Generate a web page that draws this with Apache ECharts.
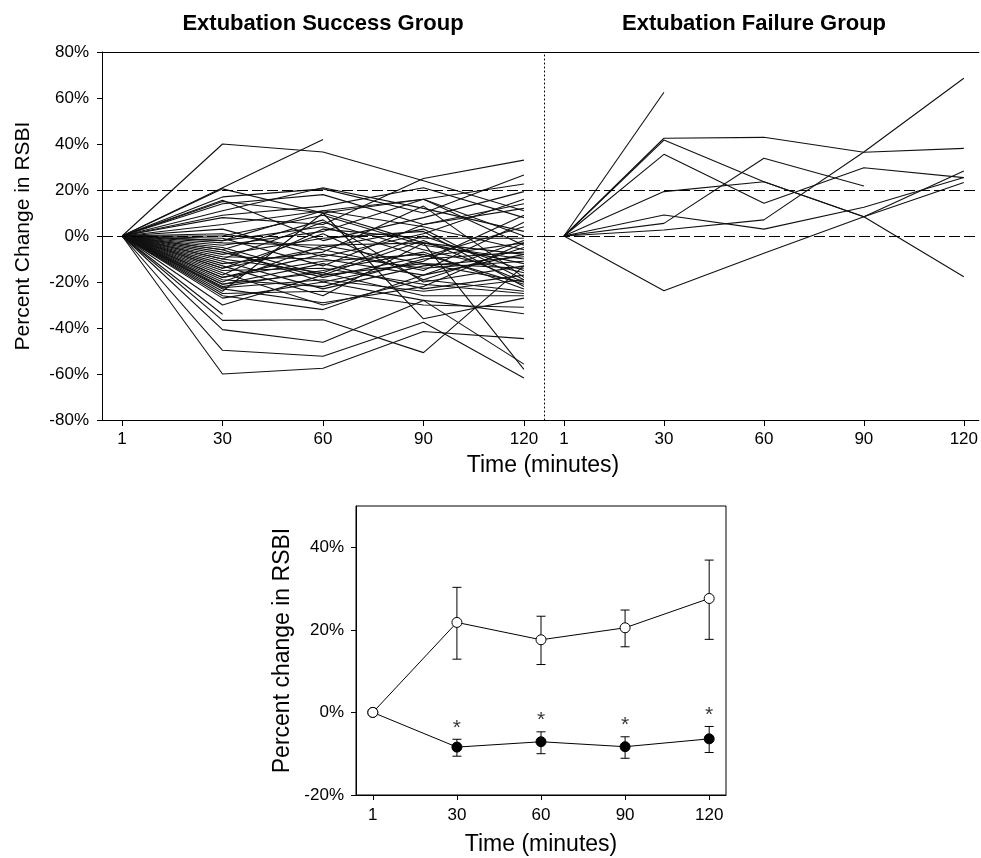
<!DOCTYPE html>
<html><head><meta charset="utf-8">
<script src="https://cdn.jsdelivr.net/npm/echarts@6/dist/echarts.min.js"></script>
<style>html,body{margin:0;padding:0;background:#fff}#c{width:981px;height:858px}</style>
</head><body><div id="c"></div>
<script>
// ---- tick labels ----
const timeLabels = ['1', '30', '60', '90', '120'];
const timeIndex = [0, 1, 2, 3, 4];
const topYTicks = [-80, -60, -40, -20, 0, 20, 40, 60, 80];
const bottomYTicks = [-20, 0, 20, 40];
const thresholds = [0, 20];

// ---- Extubation Success Group: % change in RSBI per patient at each time ----
const successT1 = [0,0,0,0,0,0,0,0,0,0, 0,0,0,0,0,0,0,0,0,0, 0,0,0,0,0,0,0,0,0,0, 0,0,0,0,0,0,0,0,0,0, 0,0,0,0,0,0,0,0, 0,0,0,0,0,0];
const successT30 = [40,21,20.5,8,17,15,15.5,14,11,9, 5,3,1,0,-1,-2,-3,-4,-5,-6, -7,-8,-9,-10,-11,-12,-13,-14,-15,-16, -17,-18,-19,-20,-21,-22,-22.5,-23,-24,-25, -26,-27,-30,-34,-36.7,-40.7,-49.7,-60, -18,-21,-6,-14,-10,-2];
const successT60 = [36.5,42,10,5,20.5,10,-2,18,21,13, 11,-9,-6,9,-13,11,-4,2,-17,7, -18,-1,-10,6,-23,-7,-26,1,-14,-30, 3,-11,-22,-4,-16,-15,-19,-29,10,-24, -32,-20,-17,null,-36.4,-46.2,-52.3,-57.5, -8,-12,-20,-5,-16,4];
const successT90 = [24,null,-3,25,10,16,8,5,12,21, 16,1,-15,-4,5,4,-12,16,-2,-20, -9,2,-17,-6,-13,13,-3,-19,-21,-19, -1,-8,-10,-3,0,-7,-24,-22,-36,-30, -17,-28,-12,null,-50.7,-28,-37.5,-41.5, -14,-23,-11,3,-26,-9];
const successT120 = [11,null,-8,33,26.5,22.6,19.3,14,2,8, -4,16,6,-10,12,-6,-14,0,-20,-13, 4,-22,-2,-16,-9,-18,-12,-5,-25,-24, -1,-21,-7,-58,-15,-23,-19,-3,-27,-31, -8,-55.7,-20,null,-13,-33.8,-61.7,-44.6, -11,-17,9,-19,-26,-3];

// ---- Extubation Failure Group ----
const failureT1 = [0,0,0,0,0,0,0,0,0];
const failureT30 = [62.5,42.5,41.7,35.5,19.3,5.5,9.1,2.6,-23.8];
const failureT60 = [null,42.9,23.6,14.2,23.6,33.8,3.0,7.0,-7.5];
const failureT90 = [null,36.4,8.4,29.7,8.4,21.7,12.5,36.5,8.4];
const failureT120 = [null,38.1,-17.7,25.4,28.3,null,25.4,68.6,23.3];

// ---- Summary (mean and error bars) ----
const failureMean = [0, 21.8, 17.6, 20.5, 27.6];
const failureLow = [null, 12.9, 11.6, 15.9, 17.7];
const failureHigh = [null, 30.3, 23.3, 24.8, 36.9];
const successMean = [0, -8.4, -7.1, -8.3, -6.4];
const successLow = [null, -10.6, -10.0, -11.1, -9.7];
const successHigh = [null, -6.5, -4.7, -5.9, -3.4];
const significant = [false, true, true, true, true];

const FONT = '"Liberation Sans", Arial, Helvetica, sans-serif';
const BLACK = '#000';

function patientLines(cols, xi, yi) {
  const out = [];
  for (let p = 0; p < cols[0].length; p++) {
    const data = [];
    for (let t = 0; t < cols.length; t++) {
      if (cols[t][p] !== null) data.push([timeIndex[t], cols[t][p]]);
    }
    out.push({
      type: 'line', xAxisIndex: xi, yAxisIndex: yi, data: data,
      symbol: 'none', silent: true, animation: false,
      lineStyle: { color: '#111', width: 1.1 }
    });
  }
  return out;
}

function dashedRefs(xi, yi) {
  return {
    type: 'line', xAxisIndex: xi, yAxisIndex: yi, data: [], silent: true, animation: false,
    markLine: {
      silent: true, symbol: 'none', animation: false, label: { show: false },
      lineStyle: { color: BLACK, width: 1.2, type: [11, 4] },
      data: thresholds.map(v => ({ yAxis: v }))
    }
  };
}

function errorBars(low, high, yi) {
  const data = [];
  for (let i = 0; i < low.length; i++) if (low[i] !== null) data.push([timeIndex[i], low[i], high[i]]);
  return {
    type: 'custom', xAxisIndex: 4, yAxisIndex: yi, data: data, silent: true, animation: false, z: 2,
    encode: { x: 0, y: [1, 2] },
    renderItem: function (params, api) {
      const x = api.value(0);
      const a = api.coord([x, api.value(1)]);
      const b = api.coord([x, api.value(2)]);
      const c = 4.5;
      const st = { stroke: BLACK, lineWidth: 1 };
      return { type: 'group', children: [
        { type: 'line', shape: { x1: a[0], y1: a[1], x2: b[0], y2: b[1] }, style: st },
        { type: 'line', shape: { x1: a[0] - c, y1: a[1], x2: a[0] + c, y2: a[1] }, style: st },
        { type: 'line', shape: { x1: b[0] - c, y1: b[1], x2: b[0] + c, y2: b[1] }, style: st }
      ]};
    }
  };
}

const xLabelFmt = v => timeLabels[Math.round(v)];

function topBottomX(gi, max) {
  return {
    gridIndex: gi, type: 'value', min: -0.2, max: max, position: 'bottom',
    axisLine: { show: true, onZero: false, lineStyle: { color: BLACK, width: 1 } },
    axisTick: { show: true, customValues: timeIndex, length: 6, inside: false, lineStyle: { color: BLACK } },
    axisLabel: { show: true, customValues: timeIndex, formatter: xLabelFmt, margin: 11, fontSize: 17, color: BLACK, fontFamily: FONT },
    splitLine: { show: false }
  };
}
function topTopX(gi, max) {
  return {
    gridIndex: gi, type: 'value', min: -0.2, max: max, position: 'top',
    axisLine: { show: true, onZero: false, lineStyle: { color: BLACK, width: 1 } },
    axisTick: { show: false }, axisLabel: { show: false }, splitLine: { show: false }
  };
}

const series = []
  .concat([dashedRefs(0, 0), dashedRefs(2, 1)])
  .concat(patientLines([successT1, successT30, successT60, successT90, successT120], 0, 0))
  .concat(patientLines([failureT1, failureT30, failureT60, failureT90, failureT120], 2, 1))
  .concat([
    errorBars(successLow, successHigh, 2),
    errorBars(failureLow, failureHigh, 2),
    {
      type: 'line', xAxisIndex: 4, yAxisIndex: 2, z: 3, animation: false, silent: true,
      data: successMean.map((v, i) => [timeIndex[i], v]),
      symbol: 'circle', symbolSize: 10,
      itemStyle: { color: BLACK, borderColor: BLACK, borderWidth: 1 },
      lineStyle: { color: BLACK, width: 1 }
    },
    {
      type: 'line', xAxisIndex: 4, yAxisIndex: 2, z: 4, animation: false, silent: true,
      data: failureMean.map((v, i) => [timeIndex[i], v]),
      symbol: 'circle', symbolSize: 10,
      itemStyle: { color: '#fff', borderColor: BLACK, borderWidth: 1 },
      lineStyle: { color: BLACK, width: 1 }
    },
    {
      type: 'scatter', xAxisIndex: 4, yAxisIndex: 2, z: 5, animation: false, silent: true,
      symbolSize: 0,
      data: successHigh.map((v, i) => significant[i] ? [timeIndex[i], v] : null).filter(d => d),
      label: { show: true, formatter: '*', position: 'top', distance: 1, fontSize: 21, color: BLACK, fontFamily: FONT }
    }
  ]);

const option = {
  backgroundColor: '#fff',
  animation: false,
  textStyle: { fontFamily: FONT },
  grid: [
    { left: 102, top: 52, width: 442, height: 368 },
    { left: 544, top: 52, width: 436, height: 368 },
    { left: 356, top: 506, width: 370, height: 289, show: true, borderColor: BLACK, borderWidth: 1, backgroundColor: 'transparent' }
  ],
  xAxis: [
    topBottomX(0, 4.2),
    topTopX(0, 4.2),
    topBottomX(1, 4.15),
    topTopX(1, 4.15),
    {
      gridIndex: 2, type: 'value', min: -0.2, max: 4.2,
      name: 'Time (minutes)', nameLocation: 'middle', nameGap: 38,
      nameTextStyle: { fontSize: 23, color: BLACK, fontFamily: FONT },
      axisLine: { show: true, onZero: false, lineStyle: { color: BLACK } },
      axisTick: { show: true, customValues: timeIndex, length: 5, lineStyle: { color: BLACK } },
      axisLabel: { show: true, customValues: timeIndex, formatter: xLabelFmt, margin: 12, fontSize: 17, color: BLACK, fontFamily: FONT },
      splitLine: { show: false }
    }
  ],
  yAxis: [
    {
      gridIndex: 0, type: 'value', min: -80, max: 80, interval: 20,
      name: 'Percent Change in RSBI', nameLocation: 'middle', nameGap: 68, nameRotate: 90,
      nameTextStyle: { fontSize: 21, color: BLACK, fontFamily: FONT },
      axisLine: { show: true, onZero: false, lineStyle: { color: BLACK } },
      axisTick: { show: true, length: 5, lineStyle: { color: BLACK } },
      axisLabel: { formatter: v => v + '%', margin: 13, fontSize: 17, color: BLACK, fontFamily: FONT, customValues: topYTicks },
      splitLine: { show: false }
    },
    {
      gridIndex: 1, type: 'value', min: -80, max: 80, interval: 20,
      axisLine: { show: true, onZero: false, lineStyle: { color: BLACK, type: [1, 3], width: 1 } },
      axisTick: { show: false }, axisLabel: { show: false }, splitLine: { show: false }
    },
    {
      gridIndex: 2, type: 'value', min: -20, max: 50,
      name: 'Percent change in RSBI', nameLocation: 'middle', nameGap: 62, nameRotate: 90,
      nameTextStyle: { fontSize: 23, color: BLACK, fontFamily: FONT },
      axisLine: { show: true, onZero: false, lineStyle: { color: BLACK } },
      axisTick: { show: true, length: 5, customValues: bottomYTicks, lineStyle: { color: BLACK } },
      axisLabel: { customValues: bottomYTicks, formatter: v => v + '%', margin: 12, fontSize: 17, color: BLACK, fontFamily: FONT },
      splitLine: { show: false }
    }
  ],
  graphic: [
    { type: 'text', x: 323, y: 24, style: { text: 'Extubation Success Group', font: 'bold 22px ' + FONT, fill: BLACK, textAlign: 'center', textVerticalAlign: 'middle' } },
    { type: 'text', x: 754, y: 24, style: { text: 'Extubation Failure Group', font: 'bold 22px ' + FONT, fill: BLACK, textAlign: 'center', textVerticalAlign: 'middle' } },
    { type: 'text', x: 543, y: 466, style: { text: 'Time (minutes)', font: '23px ' + FONT, fill: BLACK, textAlign: 'center', textVerticalAlign: 'middle' } }
  ],
  series: series
};

const chart = echarts.init(document.getElementById('c'), null, { renderer: 'canvas' });
chart.setOption(option);
</script>
</body></html>
